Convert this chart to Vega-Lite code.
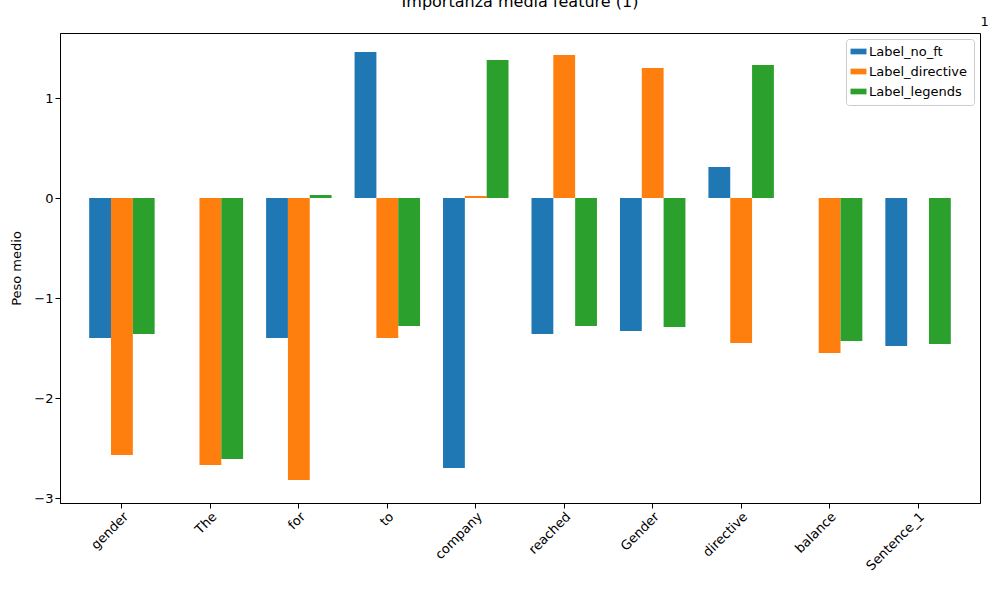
{
  "$schema": "https://vega.github.io/schema/vega-lite/v6.json",
  "width": 920,
  "height": 470,
  "autosize": {"type": "none"},
  "padding": {"left": 60, "top": 33, "right": 9, "bottom": 87},
  "title": {"text": "Importanza media feature (1)", "font": "DejaVu Sans", "fontSize": 16, "fontWeight": "normal", "offset": 5, "color": "black"},
  "config": {
    "font": "DejaVu Sans",
    "view": {"stroke": "black", "strokeWidth": 1},
    "axis": {"grid": false, "domainColor": "black", "tickColor": "black", "labelColor": "black", "labelFontSize": 13, "titleFontSize": 13, "titleFontWeight": "normal", "titleColor": "black", "labelFont": "DejaVu Sans", "titleFont": "DejaVu Sans"}
  },
  "data": {
    "values": [
      {"feature": "gender", "series": "Label_no_ft", "value": -1.4},
      {"feature": "gender", "series": "Label_directive", "value": -2.57},
      {"feature": "gender", "series": "Label_legends", "value": -1.36},
      {"feature": "The", "series": "Label_no_ft", "value": 0},
      {"feature": "The", "series": "Label_directive", "value": -2.67},
      {"feature": "The", "series": "Label_legends", "value": -2.61},
      {"feature": "for", "series": "Label_no_ft", "value": -1.4},
      {"feature": "for", "series": "Label_directive", "value": -2.82},
      {"feature": "for", "series": "Label_legends", "value": 0.03},
      {"feature": "to", "series": "Label_no_ft", "value": 1.46},
      {"feature": "to", "series": "Label_directive", "value": -1.4},
      {"feature": "to", "series": "Label_legends", "value": -1.28},
      {"feature": "company", "series": "Label_no_ft", "value": -2.7},
      {"feature": "company", "series": "Label_directive", "value": 0.02},
      {"feature": "company", "series": "Label_legends", "value": 1.38},
      {"feature": "reached", "series": "Label_no_ft", "value": -1.36},
      {"feature": "reached", "series": "Label_directive", "value": 1.43},
      {"feature": "reached", "series": "Label_legends", "value": -1.28},
      {"feature": "Gender", "series": "Label_no_ft", "value": -1.33},
      {"feature": "Gender", "series": "Label_directive", "value": 1.3},
      {"feature": "Gender", "series": "Label_legends", "value": -1.29},
      {"feature": "directive", "series": "Label_no_ft", "value": 0.31},
      {"feature": "directive", "series": "Label_directive", "value": -1.45},
      {"feature": "directive", "series": "Label_legends", "value": 1.33},
      {"feature": "balance", "series": "Label_no_ft", "value": 0},
      {"feature": "balance", "series": "Label_directive", "value": -1.55},
      {"feature": "balance", "series": "Label_legends", "value": -1.43},
      {"feature": "Sentence_1", "series": "Label_no_ft", "value": -1.48},
      {"feature": "Sentence_1", "series": "Label_directive", "value": 0},
      {"feature": "Sentence_1", "series": "Label_legends", "value": -1.46}
    ]
  },
  "encoding": {
    "x": {
      "field": "feature", "type": "nominal", "sort": null,
      "scale": {"paddingInner": 0.26, "paddingOuter": 0.33},
      "axis": {"title": null, "labelAngle": -45, "labelAlign": "right", "labelBaseline": "top"}
    },
    "xOffset": {"field": "series", "sort": ["Label_no_ft", "Label_directive", "Label_legends"]}
  },
  "layer": [
    {
      "mark": {"type": "bar"},
      "encoding": {
        "y": {
          "field": "value", "type": "quantitative",
          "scale": {"domain": [-3.05, 1.65], "nice": false, "zero": false},
          "axis": {"values": [-3, -2, -1, 0, 1], "format": "d", "title": "Peso medio", "titlePadding": 10}
        },
        "color": {
          "field": "series", "type": "nominal",
          "sort": ["Label_no_ft", "Label_directive", "Label_legends"],
          "scale": {"domain": ["Label_no_ft", "Label_directive", "Label_legends"], "range": ["#1f77b4", "#ff7f0e", "#2ca02c"]},
          "legend": {"title": null, "orient": "top-right", "symbolType": "M-1.4,-0.5H1.4V0.5H-1.4Z", "symbolSize": 130, "labelFontSize": 13, "labelFont": "DejaVu Sans", "labelColor": "black", "strokeColor": "#cccccc", "padding": 6, "fillColor": "white", "cornerRadius": 3, "offset": 6, "rowPadding": 6}
        }
      }
    },
    {
      "mark": {"type": "bar", "opacity": 0},
      "encoding": {
        "y": {
          "field": "value", "type": "quantitative",
          "scale": {"domain": [-3.05, 1.65], "nice": false, "zero": false},
          "axis": {"title": "1e\u22125", "titleAngle": 0, "titleAlign": "left", "titleBaseline": "bottom", "titleX": 0, "titleY": -5, "labels": false, "ticks": false, "domain": false, "offset": 0}
        }
      }
    }
  ],
  "resolve": {"axis": {"y": "independent"}}
}
